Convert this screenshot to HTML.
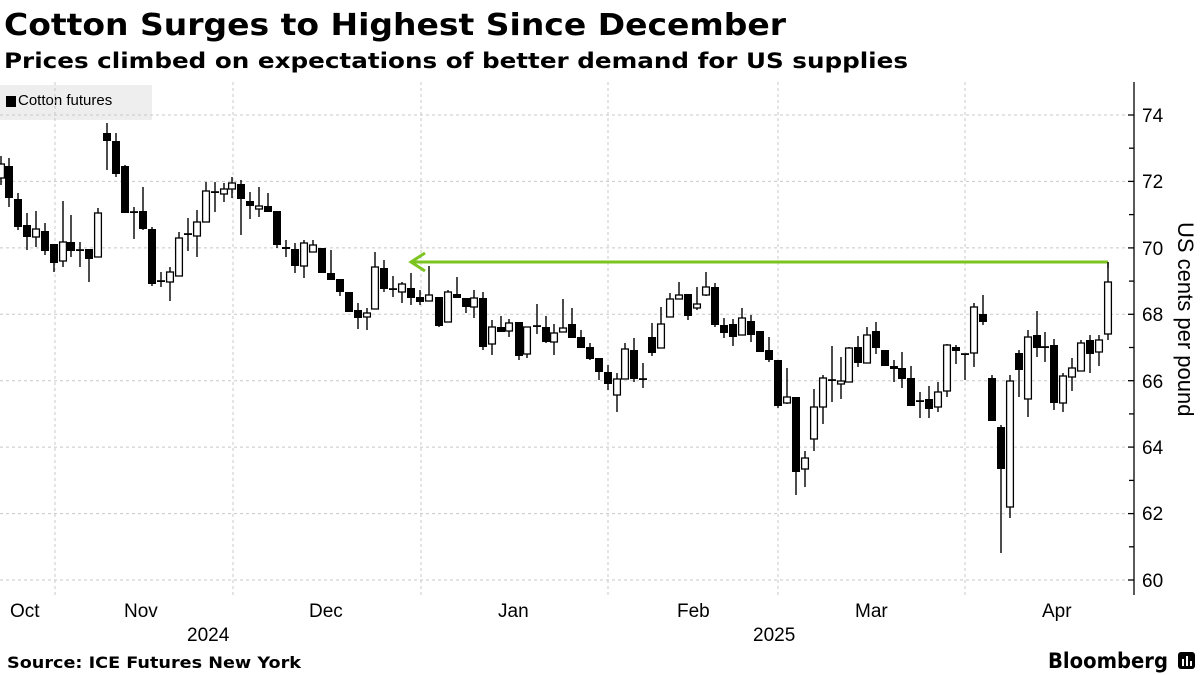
<!DOCTYPE html>
<html><head><meta charset="utf-8"><style>
html,body{margin:0;padding:0;background:#fff;}
body{width:1200px;height:675px;overflow:hidden;position:relative;font-family:"Liberation Sans",sans-serif;}
.t{position:absolute;white-space:nowrap;color:#000;}
</style></head><body>
<div class="t" style="left:0;top:85px;width:152px;height:35px;background:#eeeeee;"></div>
<div class="t" style="left:6px;top:96px;width:10px;height:11px;background:#000;"></div>
<div class="t" style="left:18px;top:92px;font-size:15px;">Cotton futures</div>
<svg width="1200" height="675" style="position:absolute;left:0;top:0" id="s">
<g font-family="DejaVu Sans, sans-serif" font-weight="bold" fill="#000">
<text x="4" y="35" font-size="30" textLength="782" lengthAdjust="spacingAndGlyphs">Cotton Surges to Highest Since December</text>
<text x="4" y="68" font-size="21" textLength="904" lengthAdjust="spacingAndGlyphs">Prices climbed on expectations of better demand for US supplies</text>
<text x="7" y="668" font-size="16" textLength="294" lengthAdjust="spacingAndGlyphs">Source: ICE Futures New York</text>
<text x="1048" y="668" font-size="21" textLength="120" lengthAdjust="spacingAndGlyphs">Bloomberg</text>
</g>
<g stroke="#c8c8c8" stroke-width="1" stroke-dasharray="3,3" fill="none">
<line x1="0" y1="115" x2="1128" y2="115"/><line x1="0" y1="181.4" x2="1128" y2="181.4"/>
<line x1="0" y1="247.9" x2="1128" y2="247.9"/><line x1="0" y1="314.3" x2="1128" y2="314.3"/>
<line x1="0" y1="380.7" x2="1128" y2="380.7"/><line x1="0" y1="447.1" x2="1128" y2="447.1"/>
<line x1="0" y1="513.6" x2="1128" y2="513.6"/><line x1="0" y1="580" x2="1128" y2="580"/>
<line x1="55" y1="82" x2="55" y2="596"/><line x1="233" y1="82" x2="233" y2="596"/>
<line x1="421" y1="82" x2="421" y2="596"/><line x1="608" y1="82" x2="608" y2="596"/>
<line x1="778" y1="82" x2="778" y2="596"/><line x1="965" y1="82" x2="965" y2="596"/>
</g>
<g stroke="#000" stroke-width="1.3">
<line x1="1134" y1="82" x2="1134" y2="595"/>
<line x1="1128" y1="115" x2="1134" y2="115"/><line x1="1129" y1="148.2" x2="1134" y2="148.2"/>
<line x1="1128" y1="181.4" x2="1134" y2="181.4"/><line x1="1129" y1="214.6" x2="1134" y2="214.6"/>
<line x1="1128" y1="247.9" x2="1134" y2="247.9"/><line x1="1129" y1="281.1" x2="1134" y2="281.1"/>
<line x1="1128" y1="314.3" x2="1134" y2="314.3"/><line x1="1129" y1="347.5" x2="1134" y2="347.5"/>
<line x1="1128" y1="380.7" x2="1134" y2="380.7"/><line x1="1129" y1="413.9" x2="1134" y2="413.9"/>
<line x1="1128" y1="447.1" x2="1134" y2="447.1"/><line x1="1129" y1="480.4" x2="1134" y2="480.4"/>
<line x1="1128" y1="513.6" x2="1134" y2="513.6"/><line x1="1129" y1="546.8" x2="1134" y2="546.8"/>
<line x1="1128" y1="580" x2="1134" y2="580"/>
</g>
<g font-family="Liberation Sans, sans-serif" font-size="19" fill="#000">
<text x="1142" y="122">74</text><text x="1142" y="188">72</text><text x="1142" y="255">70</text>
<text x="1142" y="321">68</text><text x="1142" y="388">66</text><text x="1142" y="454">64</text>
<text x="1142" y="520">62</text><text x="1142" y="587">60</text>
<text x="10" y="617">Oct</text><text x="124" y="617">Nov</text><text x="309" y="617">Dec</text>
<text x="498" y="617">Jan</text><text x="677" y="617">Feb</text><text x="855" y="617">Mar</text>
<text x="1042" y="617">Apr</text>
<text x="187" y="641">2024</text><text x="753" y="641">2025</text>
</g>
<text x="0" y="0" font-family="Liberation Sans, sans-serif" font-size="22" transform="translate(1178,222) rotate(90)">US cents per pound</text>
<g id="c"></g>
<g stroke="#7cc520" stroke-width="3" fill="none">
<line x1="411" y1="262" x2="1108" y2="262"/>
<line x1="1108" y1="262" x2="1108" y2="268" stroke-width="1.3" stroke="#000"/>
<polyline points="425,253 411,262 425,271"/>
</g>
</svg>
<div class="t" style="left:1178px;top:652px;width:17px;height:17px;background:#000;border-radius:3px;"></div>
<div class="t" style="left:1182px;top:659px;width:2px;height:7px;background:#fff;"></div>
<div class="t" style="left:1186px;top:656px;width:2px;height:10px;background:#fff;"></div>
<div class="t" style="left:1190px;top:661px;width:2px;height:5px;background:#fff;"></div>
<script>
var d=[
[1,164,178,156,185,0],[9,166,198,158,207,1],[18,199,227,193,230,1],[27,225,237,213,250,1],[36,229,237,211,247,0],
[45,231,251,223,255,1],[54,244,263,244,272,1],[63,242,261,201,267,0],[71,242,251,215,257,1],[80,250,250,242,267,2],
[89,249,259,249,282,1],[98,213,257,208,257,0],[107,133,141,123,170,1],[116,141,174,133,177,1],[125,166,213,165,213,1],
[134,212,212,207,239,2],[143,211,229,187,230,1],[152,229,284,227,286,1],[161,281,281,272,287,2],[170,272,282,267,301,0],
[179,238,276,232,276,0],[188,234,234,218,251,2],[197,222,236,210,257,0],[206,191,222,182,222,0],[215,192,192,182,212,2],
[224,189,194,183,202,0],[232,183,189,177,198,0],[241,184,199,180,235,1],[250,201,206,192,219,1],[259,206,209,187,217,0],
[268,206,212,193,212,1],[277,211,245,211,248,1],[286,247,249,240,257,1],[295,249,266,243,273,1],[304,243,266,240,278,0],
[313,245,252,240,252,0],[322,248,273,248,273,1],[331,273,280,250,280,1],[340,279,292,279,296,1],[349,292,312,292,312,1],
[358,310,318,303,329,1],[367,313,317,308,330,0],[375,267,309,252,309,0],[384,268,289,260,292,1],[393,289,289,276,297,2],
[402,284,292,282,303,0],[411,288,298,273,305,1],[420,297,302,290,305,1],[429,295,301,266,301,0],[439,297,326,297,327,1],
[448,292,322,290,322,0],[457,294,298,277,298,1],[466,298,307,298,313,1],[474,298,307,290,318,0],[483,298,347,292,350,1],
[492,327,344,320,355,0],[501,327,332,316,332,1],[509,323,331,319,337,0],[519,322,356,322,360,1],[527,327,354,327,358,0],
[537,326,326,304,334,2],[546,327,342,316,343,1],[554,333,342,324,355,0],[563,328,332,299,332,0],[572,324,338,308,338,1],
[581,337,348,330,348,1],[590,347,359,343,360,1],[599,358,372,358,380,1],[608,372,384,365,390,1],[617,379,395,373,412,0],
[625,349,379,343,379,0],[634,350,379,338,382,1],[643,379,379,363,388,2],[652,337,353,323,356,1],[661,324,348,307,348,0],
[670,299,317,293,317,0],[679,295,299,282,299,0],[688,294,316,294,320,1],[697,304,308,287,310,0],[706,287,295,272,296,0],
[715,287,325,283,327,1],[724,325,333,318,338,1],[733,324,337,319,346,1],[742,318,335,308,335,0],[751,321,335,315,342,1],
[760,331,352,331,352,1],[769,350,360,337,362,1],[778,360,406,360,408,1],[787,397,403,368,404,0],[796,397,472,397,495,1],
[805,458,469,451,487,0],[814,407,439,389,451,0],[823,378,407,375,424,0],[832,380,380,346,402,2],[841,381,384,357,399,0],
[849,348,382,347,382,0],[858,347,363,336,367,1],[867,335,363,327,363,0],[876,331,348,322,354,1],[885,350,366,350,366,1],
[894,366,369,360,382,1],[902,368,379,352,388,1],[911,378,406,366,406,1],[920,401,401,392,418,2],[929,399,409,386,418,1],
[938,392,407,382,412,0],[947,345,391,344,397,0],[956,347,351,345,364,1],[965,354,354,354,380,2],[974,307,353,303,367,0],
[983,314,322,295,325,1],[992,378,421,375,421,1],[1001,427,469,425,553,1],[1010,381,507,375,518,0],[1019,353,370,350,397,1],
[1028,337,399,330,417,0],[1037,335,348,311,357,1],[1045,347,347,332,362,2],[1054,345,403,339,410,1],[1063,376,403,373,412,0],
[1072,368,377,358,391,0],[1081,343,371,340,371,0],[1090,340,354,335,373,1],[1099,340,352,335,366,0],[1108,282,334,262,340,0]];
var g=document.getElementById('c'),h='';
d.forEach(function(c){var x=c[0];
h+='<line x1="'+x+'" y1="'+c[3]+'" x2="'+x+'" y2="'+c[4]+'" stroke="#000" stroke-width="1.4"/>';
if(c[5]==2){h+='<rect x="'+(x-4)+'" y="'+(c[1]-0.8)+'" width="8" height="1.8" fill="#000"/>';}
else if(c[5]==1){h+='<rect x="'+(x-4)+'" y="'+c[1]+'" width="8" height="'+Math.max(2,c[2]-c[1])+'" fill="#000"/>';}
else{h+='<rect x="'+(x-3.4)+'" y="'+c[1]+'" width="6.8" height="'+Math.max(2,c[2]-c[1])+'" fill="#fff" stroke="#000" stroke-width="1.3"/>';}
});
g.innerHTML=h;
</script>
</body></html>
